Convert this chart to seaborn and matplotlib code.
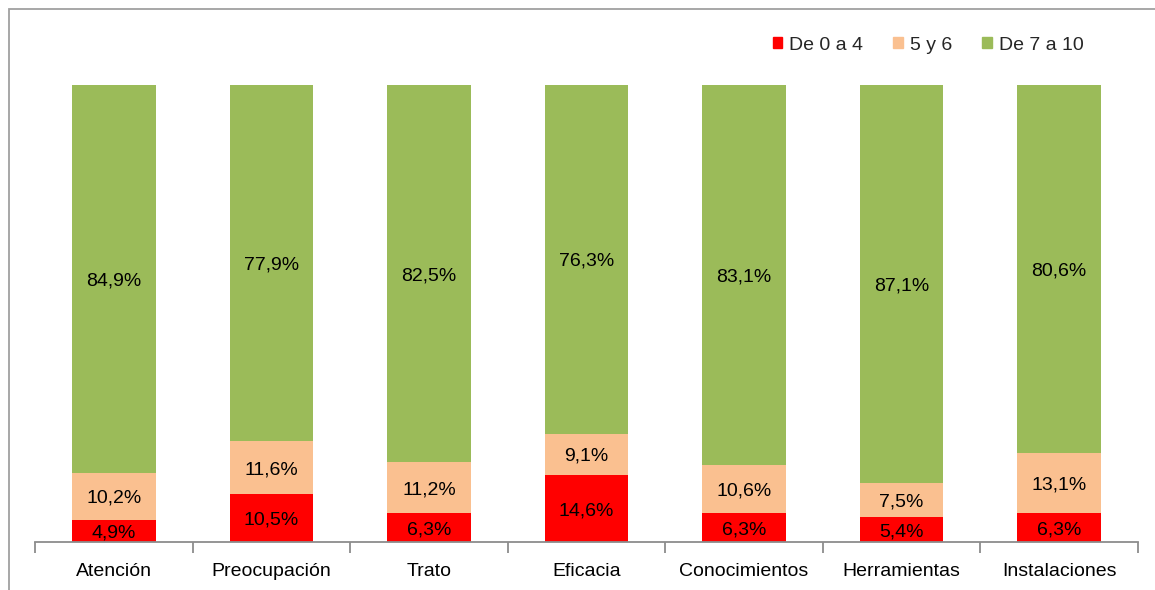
import matplotlib
matplotlib.use("Agg")
import matplotlib.pyplot as plt
import matplotlib.patches as mpatches
import numpy as np
import pandas as pd
import seaborn as sns

categories = ["Atención", "Preocupación", "Trato", "Eficacia",
              "Conocimientos", "Herramientas", "Instalaciones"]
low = [4.9, 10.5, 6.3, 14.6, 6.3, 5.4, 6.3]      # De 0 a 4
mid = [10.2, 11.6, 11.2, 9.1, 10.6, 7.5, 13.1]   # 5 y 6
high = [84.9, 77.9, 82.5, 76.3, 83.1, 87.1, 80.6]  # De 7 a 10
series_names = ["De 0 a 4", "5 y 6", "De 7 a 10"]
colors = ["#FF0000", "#FAC090", "#9BBB59"]

sns.set_theme(style="white")
plt.rcParams["font.family"] = ["Liberation Sans", "DejaVu Sans"]

df = pd.DataFrame({"cat": categories, "low": low, "mid": mid, "high": high})
df["c1"] = df["low"]
df["c2"] = df["low"] + df["mid"]
df["c3"] = df["c2"] + df["high"]

fig = plt.figure(figsize=(11.55, 5.9), dpi=100)
ax = fig.add_axes([35 / 1155, 1 - 542 / 590, (1138 - 35) / 1155, (542 - 85) / 590])

# stacked bars: draw cumulative totals from the top segment down
for col, color in zip(["c3", "c2", "c1"], colors[::-1]):
    sns.barplot(data=df, x="cat", y=col, color=color, saturation=1,
                width=0.53, ax=ax, linewidth=0, errorbar=None)

ax.set_xlim(-0.5, len(categories) - 0.5)
ax.set_ylim(0, 100)
ax.set_xlabel("")
ax.set_ylabel("")
ax.set_yticks([])
for s in ["top", "right", "left"]:
    ax.spines[s].set_visible(False)
ax.spines["bottom"].set_color("#8c8c8c")
ax.spines["bottom"].set_linewidth(1.3)
ax.spines["bottom"].set_zorder(5)

# category boundary ticks
ax.set_xticks(np.arange(len(categories) + 1) - 0.5, minor=True)
ax.tick_params(axis="x", which="minor", length=8, width=1.3, color="#8c8c8c",
               direction="out", bottom=True)
ax.tick_params(axis="x", which="major", length=0, pad=15, labelsize=14,
               labelcolor="black")

# value labels centred in each segment
for i in range(len(categories)):
    bottoms = [0, low[i], low[i] + mid[i]]
    for b, v in zip(bottoms, [low[i], mid[i], high[i]]):
        ax.text(i, b + v / 2, f"{v:.1f}%".replace(".", ","), ha="center",
                va="center_baseline", fontsize=14, color="black", zorder=6)

# legend
handles = [mpatches.Patch(color=c, label=n) for c, n in zip(colors, series_names)]
fig.legend(handles=handles, loc="center", bbox_to_anchor=(928 / 1155, 1 - 45 / 590),
           ncol=3, frameon=False, fontsize=14, handlelength=0.5, handleheight=0.5,
           handletextpad=0.35, columnspacing=1.55)

# outer frame
fig.add_artist(mpatches.Rectangle((9 / 1155, -0.05), 1.2, 1 - 9 / 590 + 0.05,
                                  transform=fig.transFigure, fill=False,
                                  edgecolor="#a0a0a0", linewidth=1.3))

fig.savefig("out.png", dpi=100)
